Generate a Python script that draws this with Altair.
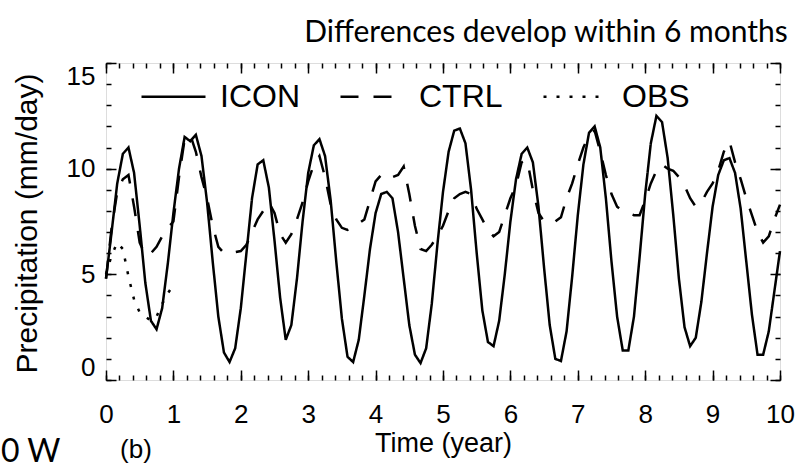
import altair as alt
import pandas as pd

# ---- data (monthly values, mm/day) ----
series_names = ["ICON", "CTRL", "OBS"]

icon = [
    4.8, 7.0, 9.3, 10.7, 11.0, 9.8, 7.3, 4.6, 2.8, 2.4, 3.4, 5.5,
    7.9, 10.0, 11.5, 11.3, 11.6, 10.6, 8.4, 5.6, 3.0, 1.3, 0.85, 1.5,
    3.4, 6.0, 8.6, 10.2, 10.4, 9.1, 6.6, 3.9, 1.9, 2.6, 4.8, 7.5,
    9.8, 11.1, 11.4, 10.6, 8.5, 5.6, 2.9, 1.1, 0.85, 1.9, 4.0, 6.2,
    7.9, 8.8, 8.9, 8.6, 7.0, 4.8, 2.6, 1.2, 0.8, 1.5, 3.6, 6.4,
    8.9, 10.8, 11.8, 11.9, 11.2, 9.0, 6.0, 3.3, 1.8, 1.6, 2.8, 5.0,
    7.5, 9.5, 10.7, 11.0, 10.3, 8.2, 5.3, 2.6, 1.0, 0.9, 2.3, 4.9,
    7.8, 10.2, 11.7, 12.0, 11.0, 8.6, 5.6, 3.0, 1.4, 1.4, 3.0, 5.8,
    8.8, 11.2, 12.5, 12.2, 10.5, 7.8, 4.8, 2.5, 1.6, 2.0, 3.7, 6.0,
    8.2, 9.7, 10.4, 10.5, 9.8, 8.1, 5.6, 3.1, 1.2, 1.2, 2.3, 4.2,
    6.1,
]

ctrl = [
    4.8, 7.2, 8.9, 9.5, 9.7, 8.2, 6.5, 5.9, 6.0, 6.3, 6.8, 7.2,
    7.5, 9.6, 11.4, 11.6, 10.8, 9.6, 8.6, 7.3, 6.3, 6.0, 6.0, 6.05,
    6.1, 6.4, 7.0, 7.6, 8.0, 8.4, 7.9, 6.9, 6.5, 6.9, 7.6, 8.4,
    9.4, 10.2, 10.6, 9.6, 8.3, 7.6, 7.2, 7.1, 7.2, 7.4, 7.6, 8.5,
    9.4, 9.7, 9.8, 9.6, 9.7, 10.1, 8.8, 7.3, 6.2, 6.1, 6.4, 6.8,
    7.3, 8.0, 8.6, 8.8, 8.9, 8.8, 8.1, 7.6, 7.1, 6.8, 7.0, 7.8,
    8.6, 9.2, 10.3, 10.4, 9.0, 7.9, 7.5, 7.4, 7.5, 7.7, 8.6, 9.3,
    10.2, 11.0, 11.6, 11.8, 10.8, 9.7, 8.8, 8.2, 8.0, 7.9, 7.8, 7.8,
    8.5, 9.3, 9.9, 10.2, 10.0, 9.9, 9.6, 9.2, 8.6, 8.2, 8.4, 8.9,
    9.3, 9.9, 10.8, 11.3, 10.3, 9.5, 8.6, 7.8, 7.0, 6.5, 6.8, 7.6,
    8.3,
]

obs = [5.0, 5.9, 6.5, 6.2, 4.9, 3.8, 3.2, 3.0, 2.8, 3.0, 3.6, 4.1, 4.5]

x_major = [0, 1, 2, 3, 4, 5, 6, 7, 8, 9, 10]
x_minor = [i / 5 for i in range(51)]
y_major = [0, 5, 10, 15]
y_minor = list(range(16))

rows = []
for name, vals in zip(series_names, [icon, ctrl, obs]):
    for i, v in enumerate(vals):
        rows.append({"t": i / 12, "p": v, "series": name})
df = pd.DataFrame(rows)

W, H = 674, 317
FONT = "Liberation Sans"
x_scale = alt.Scale(domain=[0, 10], nice=False, zero=False)
y_scale = alt.Scale(domain=[0, 15], nice=False, zero=False)

lines = alt.Chart(df).mark_line(color="black", strokeWidth=2.5, strokeCap="butt").encode(
    x=alt.X("t:Q", scale=x_scale, axis=alt.Axis(
        orient="bottom", values=x_major, ticks=False, domain=False, grid=False,
        labelPadding=21, labelFontSize=26, labelFont=FONT, labelColor="black",
        labelFlush=False, labelOverlap=False,
        title="Time (year)", titleFont=FONT, titleFontSize=27, titleFontWeight="normal",
        titleColor="black", titleY=63, titleBaseline="middle")),
    y=alt.Y("p:Q", scale=y_scale, axis=alt.Axis(
        orient="left", values=y_major, ticks=False, domain=False, grid=False,
        labelPadding=11, labelFontSize=26, labelFont=FONT, labelColor="black",
        labelFlush=True, labelOverlap=False,
        title="Precipitation (mm/day)", titleFont=FONT, titleFontSize=30,
        titleFontWeight="normal", titleColor="black", titleX=-79, titleY=160,
        titleAngle=270, titleAlign="center", titleBaseline="middle")),
    strokeDash=alt.StrokeDash("series:N", scale=alt.Scale(
        domain=series_names, range=[[1, 0], [18, 15], [3, 10]]),
        legend=alt.Legend(
            title=None, orient="none", legendX=34, legendY=0, direction="horizontal",
            symbolType="stroke", symbolSize=4096, symbolStrokeWidth=2.5,
            symbolStrokeColor="black", labelFont=FONT, labelFontSize=32,
            labelColor="black", labelOffset=13, columnPadding=35, padding=0)),
)


def tick_layer(x_orient, y_orient, xv, yv, size):
    # invisible layer that only carries inward-pointing tick axes
    return alt.Chart(df).mark_point(opacity=0).encode(
        x=alt.X("t:Q", scale=x_scale, axis=alt.Axis(
            orient=x_orient, offset=-H, values=xv, tickSize=size, tickWidth=1.5,
            tickColor="black", labels=False, domain=False, grid=False, title=None)),
        y=alt.Y("p:Q", scale=y_scale, axis=alt.Axis(
            orient=y_orient, offset=-W, values=yv, tickSize=size, tickWidth=1.5,
            tickColor="black", labels=False, domain=False, grid=False, title=None)),
    )


ticks = [
    tick_layer("top", "right", x_minor, y_minor, 5),
    tick_layer("top", "right", x_major, y_major, 10),
    tick_layer("bottom", "left", x_minor, y_minor, 5),
    tick_layer("bottom", "left", x_major, y_major, 10),
]

panel = alt.Chart(pd.DataFrame({"label": ["(b)"]})).mark_text(
    font=FONT, fontSize=26, color="black", align="center", baseline="middle"
).encode(x=alt.value(30), y=alt.value(387), text="label:N")

side = alt.Chart(pd.DataFrame({"label": ["0 W"]})).mark_text(
    font="Lato", fontSize=32, color="black", align="left", baseline="middle"
).encode(x=alt.value(-105), y=alt.value(389), text="label:N")

chart = alt.layer(lines, *ticks, panel, side).resolve_axis(
    x="independent", y="independent"
).properties(
    width=W, height=H,
    title=alt.TitleParams("Differences develop within 6 months", font="Lato",
                          fontSize=30, fontWeight="normal", color="black",
                          anchor="middle", dx=103, offset=14),
    autosize=alt.AutoSizeParams(type="none"),
    padding={"left": 106, "top": 63, "right": 20, "bottom": 88},
).configure_view(stroke="black", strokeWidth=2).configure(background="white")

chart.save("out.html", embed_options={"renderer": "svg", "actions": False})
